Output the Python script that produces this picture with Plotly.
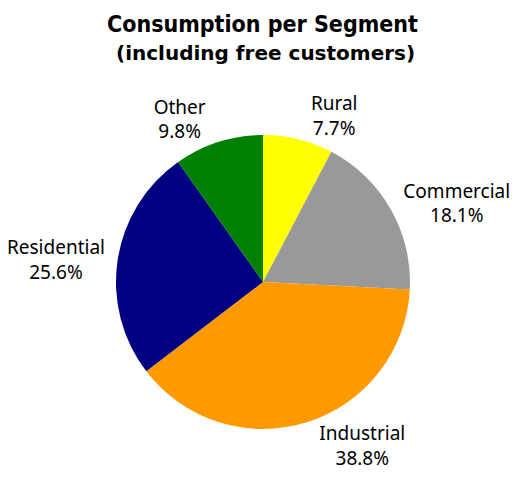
import plotly.graph_objects as go

labels = ["Rural", "Commercial", "Industrial", "Residential", "Other"]
values = [7.7, 18.1, 38.8, 25.6, 9.8]
colors = ["#FFFF00", "#999999", "#FF9900", "#000080", "#008000"]
title_main = "Consumption per Segment"
title_sub = "(including free customers)"

W, H = 519, 483
cx, cy, r = 263, 282, 147

fig = go.Figure(go.Pie(
    labels=labels,
    values=values,
    sort=False,
    direction="clockwise",
    rotation=0,
    marker=dict(colors=colors, line=dict(width=0)),
    textposition="outside",
    texttemplate="%{label}<br>%{percent:.1%}",
    textfont=dict(family="Noto Sans", size=19, color="black"),
    showlegend=False,
    hoverinfo="label+percent",
    domain=dict(x=[(cx - r) / W, (cx + r) / W],
                y=[(H - cy - r) / H, (H - cy + r) / H]),
))

fig.update_layout(
    width=W, height=H,
    margin=dict(l=0, r=0, t=0, b=0),
    paper_bgcolor="white",
    plot_bgcolor="white",
    annotations=[
        dict(text="<b>" + title_main + "</b>", x=262 / W, y=1 - 9 / H,
             xref="paper", yref="paper", xanchor="center", yanchor="top",
             showarrow=False,
             font=dict(family="DejaVu Sans Condensed, Liberation Sans",
                       size=23, color="black")),
        dict(text="<b>" + title_sub + "</b>", x=265 / W, y=1 - 39 / H,
             xref="paper", yref="paper", xanchor="center", yanchor="top",
             showarrow=False, font=dict(family="DejaVu Sans", size=20, color="black")),
    ],
)

fig.write_html("out.html", config={"displayModeBar": False},
               post_script="document.body.style.margin='0px';")
